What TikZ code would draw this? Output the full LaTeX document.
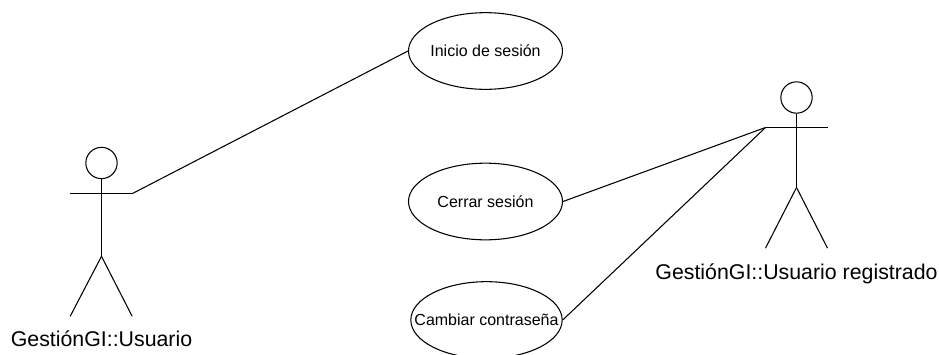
\documentclass[tikz,border=0pt]{standalone}
\usepackage{fontspec}
\setmainfont{Liberation Sans}
\usetikzlibrary{shapes,positioning}
\tikzstyle{line}=[draw,black,line width=0.8pt]
\tikzstyle{usecase} =
  [ellipse, draw, line width=0.8pt, inner sep=0pt, text centered,
   minimum width=115.5pt, minimum height=57.5pt, font=\fontsize{12}{14}\selectfont]
\tikzstyle{head} =
  [circle, draw, line width=0.8pt, inner sep=0pt, minimum size=23.5pt]
\tikzstyle{actorname} = [inner sep=0pt, font=\fontsize{16}{19}\selectfont]
\begin{document}
\begin{tikzpicture}[x=0.75pt,y=-0.75pt]
  \useasboundingbox (0,0) rectangle (939,354);
  \clip (0,0) rectangle (939,354);

  % use cases
  \node [usecase] (inicio) at (485.5,51) {\makebox[0pt]{Inicio de sesión}};
  \node [usecase] (cerrar) at (485.5,201.5) {\makebox[0pt]{Cerrar sesión}};
  \node [usecase, minimum width=113.5pt] (cambiar) at (486.5,320) {\makebox[0pt]{Cambiar contraseña}};

  % left actor
  \node [head] (head1) at (101.5,163) {};
  \coordinate [below=23pt of head1.center] (neck1);
  \coordinate [below=70pt of head1.center] (hip1);
  \coordinate [below=115pt of head1.center] (feet1);
  \coordinate [left=23.5pt of neck1] (arml1);
  \coordinate [right=23pt of neck1] (armr1);
  \coordinate [left=23.5pt of feet1] (legl1);
  \coordinate [right=23pt of feet1] (legr1);
  \node [actorname, below=10.5pt of feet1] (name1) {GestiónGI::Usuario};
  \draw [line] (head1) to (hip1);
  \draw [line] (arml1) to (armr1);
  \draw [line] (hip1) to (legl1);
  \draw [line] (hip1) to (legr1);

  % right actor
  \node [head] (head2) at (796.5,97.5) {};
  \coordinate [below=22.5pt of head2.center] (neck2);
  \coordinate [below=67.5pt of head2.center] (hip2);
  \coordinate [below=113pt of head2.center] (feet2);
  \coordinate [left=23.25pt of neck2] (arml2);
  \coordinate [right=23.25pt of neck2] (armr2);
  \coordinate [left=23.25pt of feet2] (legl2);
  \coordinate [right=23.25pt of feet2] (legr2);
  \node [actorname, below=11.5pt of feet2] (name2) {GestiónGI::Usuario registrado};
  \draw [line] (head2) to (hip2);
  \draw [line] (arml2) to (armr2);
  \draw [line] (hip2) to (legl2);
  \draw [line] (hip2) to (legr2);

  \draw [line] (armr1) to (inicio.west);
  \draw [line] (arml2) to (cerrar.east);
  \draw [line] (arml2) to (cambiar.east);
\end{tikzpicture}
\end{document}
